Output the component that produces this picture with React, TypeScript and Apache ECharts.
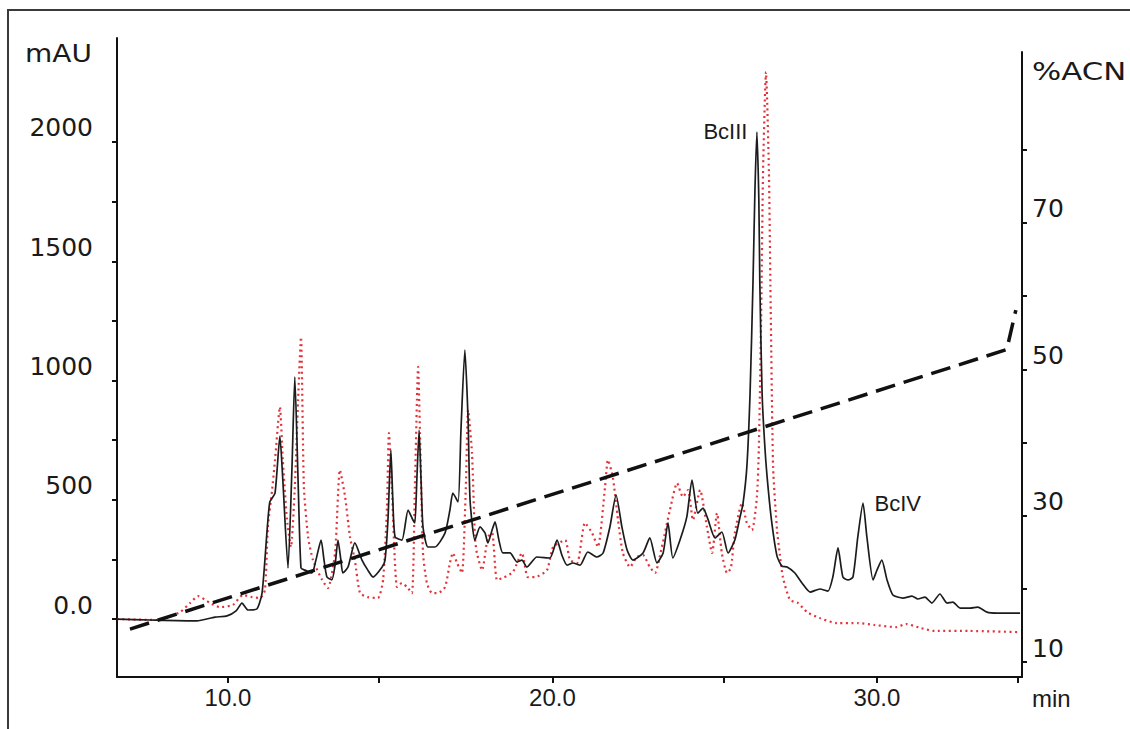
import React, { useEffect, useRef } from 'react';
import * as echarts from 'echarts';

// Retention time (min) and absorbance (mAU) — black trace
const BLACK_TIME = [
  6.58, 7.6, 9.04, 9.6, 9.97, 10.25, 10.43, 10.62, 10.89, 11.05,
  11.2, 11.29, 11.45, 11.6, 11.69, 11.85, 11.97, 12.06, 12.16, 12.25,
  12.37, 12.59, 12.71, 12.87, 12.96, 13.05, 13.2, 13.3, 13.39, 13.48,
  13.54, 13.7, 13.91, 14.13, 14.31, 14.47, 14.75, 14.84, 14.93, 15.02,
  15.08, 15.15, 15.36, 15.55, 15.7, 15.76, 15.82, 15.89, 15.95, 16.01,
  16.16, 16.38, 16.69, 16.84, 16.93, 17.09, 17.18, 17.3, 17.4, 17.46,
  17.61, 17.77, 17.92, 18.01, 18.14, 18.23, 18.35, 18.47, 18.69, 18.91,
  19.06, 19.21, 19.52, 19.92, 20.14, 20.29, 20.45, 20.63, 20.85, 21.09,
  21.37, 21.56, 21.77, 21.96, 22.14, 22.3, 22.48, 22.79, 23.0, 23.22,
  23.41, 23.56, 23.71, 23.93, 24.14, 24.3, 24.48, 24.64, 24.79, 25.01,
  25.22, 25.41, 25.62, 25.78, 25.87, 25.99, 26.09, 26.18, 26.24, 26.3,
  26.36, 26.39, 26.46, 26.55, 26.64, 26.76, 26.92, 27.07, 27.23, 27.47,
  27.69, 27.94, 28.24, 28.49, 28.64, 28.8, 28.95, 29.11, 29.26, 29.41,
  29.57, 29.69, 29.88, 30.0, 30.15, 30.31, 30.49, 30.8, 31.08, 31.26,
  31.48, 31.69, 31.94, 32.16, 32.34, 32.56, 32.87, 33.11, 33.39, 33.7,
  34.41,
];
const BLACK_MAU = [
  0, -4, -8, 8, 13, 34, 67, 38, 42, 109,
  361, 491, 528, 767, 583, 214, 625, 1015, 583, 214,
  205, 193, 247, 331, 247, 176, 164, 226, 331, 247,
  193, 218, 319, 247, 205, 176, 218, 247, 415, 709,
  499, 344, 331, 457, 415, 403, 583, 792, 583, 386,
  302, 302, 361, 457, 528, 491, 792, 1128, 834, 499,
  331, 386, 361, 319, 373, 407, 331, 277, 277, 239,
  247, 218, 260, 256, 331, 268, 226, 235, 226, 281,
  260, 277, 386, 520, 386, 289, 247, 277, 340, 235,
  277, 403, 256, 331, 428, 583, 444, 465, 419, 340,
  365, 277, 331, 428, 482, 637, 948, 1413, 1799, 2042,
  1757, 1413, 948, 713, 558, 403, 264, 222, 218, 193,
  151, 113, 126, 117, 176, 298, 176, 164, 176, 344,
  486, 344, 164, 205, 247, 164, 101, 88, 96, 84,
  92, 67, 105, 67, 71, 46, 46, 50, 29, 25,
  25,
];

// Red dotted trace
const RED_TIME = [
  6.58, 7.81, 8.52, 8.83, 9.08, 9.45, 9.75, 10.15, 10.46, 10.74,
  10.99, 11.14, 11.23, 11.36, 11.45, 11.6, 11.69, 11.82, 11.94, 12.06,
  12.16, 12.25, 12.34, 12.47, 12.62, 12.9, 13.08, 13.3, 13.45, 13.61,
  13.76, 13.91, 14.07, 14.31, 14.62, 14.78, 14.9, 14.96, 15.05, 15.21,
  15.36, 15.52, 15.67, 15.76, 15.86, 15.92, 16.01, 16.13, 16.29, 16.47,
  16.69, 16.84, 16.93, 17.06, 17.21, 17.33, 17.4, 17.52, 17.61, 17.67,
  17.83, 18.01, 18.14, 18.29, 18.47, 18.78, 19.06, 19.24, 19.46, 19.83,
  20.02, 20.39, 20.54, 20.76, 21.0, 21.22, 21.4, 21.62, 21.71, 21.86,
  22.02, 22.17, 22.39, 22.6, 22.79, 23.0, 23.16, 23.37, 23.62, 23.84,
  24.02, 24.18, 24.33, 24.55, 24.76, 24.92, 25.07, 25.22, 25.38, 25.5,
  25.62, 25.84, 25.99, 26.15, 26.3, 26.36, 26.43, 26.49, 26.58, 26.67,
  26.73, 26.8, 26.92, 27.01, 27.1, 27.32, 27.57, 27.85, 28.24, 28.76,
  29.41, 29.93, 30.58, 30.9, 31.36, 31.78, 32.85, 34.41,
];
const RED_MAU = [
  0, -4, 29, 67, 96, 67, 50, 59, 101, 92,
  88, 122, 386, 541, 667, 889, 667, 415, 302, 553,
  918, 1182, 553, 344, 247, 164, 130, 277, 625, 512,
  344, 247, 109, 92, 88, 164, 470, 780, 553, 134,
  151, 134, 109, 553, 1057, 763, 277, 151, 109, 109,
  134, 235, 277, 235, 193, 553, 876, 696, 344, 277,
  205, 344, 361, 164, 172, 197, 277, 176, 176, 205,
  302, 331, 247, 235, 403, 361, 302, 553, 667, 595,
  415, 277, 218, 260, 268, 218, 193, 302, 457, 570,
  512, 541, 415, 541, 386, 277, 444, 277, 193, 214,
  361, 486, 403, 373, 512, 713, 1258, 1878, 2293, 1878,
  1258, 637, 373, 268, 176, 80, 67, 29, 4, -17,
  -17, -25, -34, -21, -38, -50, -50, -55,
];

// Acetonitrile gradient (%ACN)
const GRADIENT_TIME = [6.98, 34.0, 34.28];
const GRADIENT_ACN = [14.5, 52.7, 58.1];

// Axes
const TIME_MIN = 6.58;
const TIME_MAX = 34.47;
const TIME_TICKS = [10, 14.65, 20, 25.27, 30, 34.35];
const TIME_LABELS = [10, 20, 30];
const MAU_MIN = -243;
const MAU_MAX = 2436;
const MAU_TICKS = [0, 250, 500, 750, 1000, 1250, 1500, 1750, 2000];
const MAU_LABELS = [0, 500, 1000, 1500, 2000];
const ACN_MIN = 7.95;
const ACN_MAX = 93.37;
const ACN_TICKS = [10, 20, 30, 40, 50, 60, 70, 80];
const ACN_LABELS = [10, 30, 50, 70];

const PEAK_NAMES = ['BcIII', 'BcIV'];
const PEAK_WINDOWS = [[25, 28], [28, 31]];

const zip = (xs: number[], ys: number[]) => xs.map((x, i) => [x, ys[i]]);

function peakIn(lo: number, hi: number) {
  let best = -1;
  for (let i = 0; i < BLACK_TIME.length; i++) {
    if (BLACK_TIME[i] >= lo && BLACK_TIME[i] <= hi && (best < 0 || BLACK_MAU[i] > BLACK_MAU[best])) best = i;
  }
  return [BLACK_TIME[best], BLACK_MAU[best]];
}

export default function App() {
  const ref = useRef<HTMLDivElement>(null);
  useEffect(() => {
    if (!ref.current) return;
    const chart = echarts.init(ref.current, undefined, { renderer: 'svg' });
    const ink = '#1a1a1a';
    const axisLine = { show: true, onZero: false, lineStyle: { color: '#111', width: 2 } };
    const sansWide = 'DejaVu Sans';
    const sans = 'Liberation Sans';
    const option: any = {
      animation: false,
      backgroundColor: '#ffffff',
      grid: [
        { left: 117, top: 38, width: 905, height: 639 },
        { left: 117, top: 52, width: 905, height: 625 },
      ],
      xAxis: [
        {
          type: 'value', gridIndex: 0, min: TIME_MIN, max: TIME_MAX,
          axisLine,
          axisTick: { show: true, customValues: TIME_TICKS, length: 6, lineStyle: { color: '#111', width: 2 } },
          axisLabel: {
            customValues: TIME_LABELS, formatter: (v: number) => v.toFixed(1),
            fontFamily: sans, fontSize: 24, color: ink, margin: 8,
          },
          splitLine: { show: false },
        },
        { type: 'value', gridIndex: 1, min: TIME_MIN, max: TIME_MAX, show: false },
      ],
      yAxis: [
        {
          type: 'value', gridIndex: 0, position: 'left', min: MAU_MIN, max: MAU_MAX,
          axisLine,
          axisTick: { show: true, customValues: MAU_TICKS, length: 5, lineStyle: { color: '#111', width: 2 } },
          axisLabel: {
            customValues: MAU_LABELS, formatter: (v: number) => (v === 0 ? '0.0' : String(v)),
            fontFamily: sansWide, fontSize: 25, color: ink, margin: 24,
            verticalAlign: 'bottom', lineHeight: 28,
          },
          splitLine: { show: false },
        },
        {
          type: 'value', gridIndex: 1, position: 'right', min: ACN_MIN, max: ACN_MAX,
          axisLine,
          axisTick: { show: true, customValues: ACN_TICKS, length: 5, lineStyle: { color: '#111', width: 2 } },
          axisLabel: {
            customValues: ACN_LABELS, fontFamily: sansWide, fontSize: 25, color: ink, margin: 10,
            verticalAlign: 'bottom', lineHeight: 28,
          },
          splitLine: { show: false },
        },
      ],
      series: [
        {
          name: 'trace B', type: 'line', xAxisIndex: 0, yAxisIndex: 0,
          data: zip(RED_TIME, RED_MAU), showSymbol: false, symbol: 'none', smooth: 0.2,
          lineStyle: { color: '#e2333b', width: 2.2, type: [2, 3.5] }, z: 2,
        },
        {
          name: 'trace A', type: 'line', xAxisIndex: 0, yAxisIndex: 0,
          data: zip(BLACK_TIME, BLACK_MAU), showSymbol: false, symbol: 'none', smooth: 0.2,
          lineStyle: { color: '#1c1c1c', width: 1.7 }, z: 3,
          markPoint: {
            symbol: 'circle', symbolSize: 1, itemStyle: { color: 'rgba(0,0,0,0)' },
            label: { show: true, fontFamily: sans, fontSize: 22, color: ink },
            data: PEAK_NAMES.map((name, i) => ({
              coord: peakIn(PEAK_WINDOWS[i][0], PEAK_WINDOWS[i][1]),
              label: { formatter: name, position: i === 0 ? 'left' : 'right', distance: i === 0 ? 9 : 11 },
            })),
          },
        },
        {
          name: '%ACN', type: 'line', xAxisIndex: 1, yAxisIndex: 1,
          data: zip(GRADIENT_TIME, GRADIENT_ACN), showSymbol: false, symbol: 'none',
          lineStyle: { color: '#111', width: 3.5, type: [20, 9] }, z: 4,
        },
      ],
      graphic: [
        {
          type: 'rect', silent: true, z: -10,
          shape: { x: 8, y: 10, width: 1200, height: 800 },
          style: { fill: 'none', stroke: '#3a3a3a', lineWidth: 2 },
        },
        {
          type: 'text', x: 25, y: 53, scaleX: 1.12, silent: true,
          style: { text: 'mAU', fontFamily: sansWide, fontSize: 25, fill: ink, align: 'left', verticalAlign: 'middle' },
        },
        {
          type: 'text', x: 1032, y: 72, scaleX: 1.23, silent: true,
          style: { text: '%ACN', fontFamily: sansWide, fontSize: 25, fill: ink, align: 'left', verticalAlign: 'middle' },
        },
        {
          type: 'text', x: 1032, y: 698, silent: true,
          style: { text: 'min', fontFamily: sans, fontSize: 24, fill: ink, align: 'left', verticalAlign: 'middle' },
        },
      ],
    };
    chart.setOption(option);
    return () => chart.dispose();
  }, []);
  return (
    <div
      ref={ref}
      style={{ position: 'fixed', left: 0, top: 0, width: 1130, height: 729, background: '#fff' }}
    />
  );
}
